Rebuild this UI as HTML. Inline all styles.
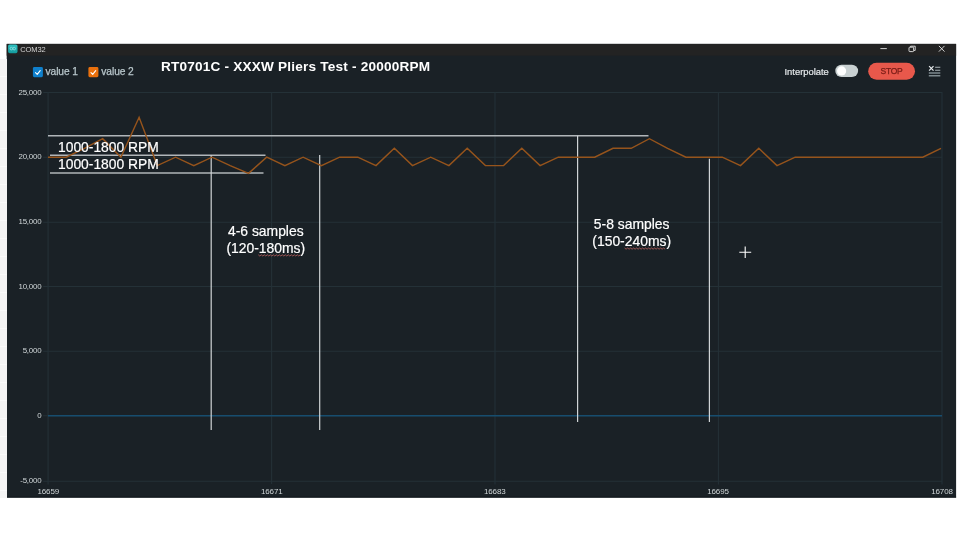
<!DOCTYPE html>
<html><head><meta charset="utf-8"><title>COM32</title>
<style>
html,body{margin:0;padding:0;}
body{width:960px;height:540px;overflow:hidden;background:#fff;position:relative;font-family:"Liberation Sans",sans-serif;}
.abs{position:absolute;z-index:1;}
#strip{left:0;top:59px;width:7px;height:439px;background:repeating-linear-gradient(#f4f4f4 0 17px,#fafafa 17px 18px);}
#ttl{left:20.3px;top:46px;font-size:7.5px;line-height:8px;color:#d4d4d4;letter-spacing:-0.12px;}
.lg{top:66px;font-size:10.2px;line-height:12px;color:#b9c7cc;letter-spacing:-0.06px;-webkit-text-stroke:0.25px #b9c7cc;}
#head{left:161px;top:60.1px;font-size:13.6px;line-height:14px;font-weight:bold;color:#fff;white-space:nowrap;letter-spacing:0.2px;}
.yl{left:0;width:41.4px;text-align:right;font-size:7.9px;line-height:9px;color:#d0d6d8;letter-spacing:-0.2px;}
.xl{top:487.2px;width:40px;text-align:center;font-size:8px;line-height:9px;color:#d0d6d8;letter-spacing:-0.1px;}
.ann{color:#fff;white-space:nowrap;-webkit-text-stroke:0.2px #fff;}
.rpm{font-size:13.85px;line-height:15px;left:58px;}
.smp{font-size:13.9px;line-height:16.7px;text-align:center;width:120px;}
#interp{left:784.5px;top:65.9px;-webkit-text-stroke:0.2px #e4e8ea;font-size:9.4px;line-height:11px;color:#e4e8ea;letter-spacing:0px;}
#stop{left:868px;top:62.9px;width:47px;height:16.8px;color:#7a1c16;font-size:8.5px;line-height:16.8px;text-align:center;letter-spacing:-0.3px;-webkit-text-stroke:0.25px #7a1c16;}
svg{position:absolute;left:0;top:0;}
#all{position:absolute;left:0;top:0;width:960px;height:540px;filter:blur(0.4px);}
</style></head><body>
<div id="all">
<div class="abs" id="strip"></div>
<div class="abs" id="ttl">COM32</div>

<div class="abs lg" style="left:45.5px;">value 1</div>
<div class="abs lg" style="left:101.3px;">value 2</div>
<div class="abs" id="head">RT0701C - XXXW Pliers Test - 20000RPM</div>

<div class="abs" id="interp">Interpolate</div>
<div class="abs" id="stop">STOP</div>

<div class="abs yl" style="top:87.5px;">25,000</div>
<div class="abs yl" style="top:152.2px;">20,000</div>
<div class="abs yl" style="top:217.2px;">15,000</div>
<div class="abs yl" style="top:281.5px;">10,000</div>
<div class="abs yl" style="top:346.3px;">5,000</div>
<div class="abs yl" style="top:410.8px;">0</div>
<div class="abs yl" style="top:476.2px;">-5,000</div>

<div class="abs xl" style="left:28.3px;">16659</div>
<div class="abs xl" style="left:251.8px;">16671</div>
<div class="abs xl" style="left:474.8px;">16683</div>
<div class="abs xl" style="left:698px;">16695</div>
<div class="abs xl" style="left:922px;">16708</div>

<svg width="960" height="540" viewBox="0 0 960 540">
 <rect x="6.7" y="43.9" width="949.4" height="453.7" fill="#1a2126"/>
 <rect x="6.7" y="496.6" width="949.4" height="1" fill="#12181c"/>
 <rect x="6.7" y="43.9" width="949.4" height="11.8" fill="#232323"/>
 <!-- grid -->
 <g stroke="#243137" stroke-width="1.1" fill="none">
  <path d="M43.2 92.5H942 M43.2 157.2H942 M43.2 222.2H942 M43.2 286.5H942 M43.2 351.3H942 M43.2 415.8H942 M43.2 481.2H942"/>
  <path d="M48.1 92V484.5 M271.6 92V484 M495 92V484.5 M718.4 92V484.5 M942 92V484.5"/>
 </g>
 <!-- value 1 (zero line) -->
 <path d="M48 415.7H942" stroke="#174d6e" stroke-width="1.6" fill="none"/>
 <!-- annotation lines -->
 <g stroke="#b1b6b9" stroke-width="1.5" fill="none">
  <path d="M48 135.8H648.5"/>
  <path d="M50 155.3H265.5"/>
  <path d="M50 173H263.5"/>
 </g>
 <g stroke="#d0d4d6" stroke-width="1.2" fill="none">
  <path d="M211.2 155.3V430"/>
  <path d="M319.7 155V430"/>
  <path d="M577.6 135.8V422"/>
  <path d="M709.4 158.7V422"/>
 </g>
 <defs><linearGradient id="ig" x1="0" y1="0" x2="0" y2="1"><stop offset="0" stop-color="#2fc3c3"/><stop offset="1" stop-color="#149a9d"/></linearGradient></defs>
 <rect x="8.1" y="44.4" width="9.4" height="8.8" rx="1.6" fill="url(#ig)"/>
 <g stroke="#9fe6e6" stroke-width="0.7" fill="none"><circle cx="11.4" cy="48.6" r="1.3"/><circle cx="14.2" cy="48.6" r="1.3"/></g>
 <rect x="32.9" y="67.1" width="10" height="10.1" rx="1.4" fill="#0f80cc"/>
 <rect x="88.4" y="67.1" width="10" height="10.1" rx="1.4" fill="#e9700d"/>
 <!-- checkbox ticks -->
 <g stroke="#fff" stroke-width="1.1" fill="none" stroke-linecap="round" stroke-linejoin="round">
  <path d="M35.5 72.6l1.7 1.7 3-3.6"/>
  <path d="M91 72.6l1.7 1.7 3-3.6"/>
 </g>
 <!-- value 2 -->
 <polyline points="48.0,157.2 66.2,157.2 84.4,148.3 102.7,138.7 120.9,157.2 139.1,117.3 157.3,165.6 175.6,157.2 193.8,165.6 212.0,157.2 230.2,165.6 248.5,173.4 266.7,157.2 284.9,165.6 303.1,157.2 321.4,165.6 339.6,157.2 357.8,157.2 376.0,165.6 394.3,148.3 412.5,165.6 430.7,157.2 448.9,165.6 467.2,148.3 485.4,165.6 503.6,165.6 521.8,148.3 540.1,165.6 558.3,157.2 576.5,157.2 594.7,157.2 613.0,148.3 631.2,148.3 649.4,138.7 667.6,148.3 685.9,157.2 704.1,157.2 722.3,157.2 740.5,165.6 758.8,148.3 777.0,165.6 795.2,157.2 813.4,157.2 831.7,157.2 849.9,157.2 868.1,157.2 886.3,157.2 904.6,157.2 922.8,157.2 941.0,148.3" stroke="#96541c" stroke-width="1.45" fill="none" stroke-linejoin="miter"/>
 <rect x="835.3" y="64.7" width="22.8" height="12.4" rx="6.2" fill="#c9d1d2"/>
 <circle cx="841.6" cy="70.9" r="4.6" fill="#fff"/>
 <rect x="868.2" y="62.8" width="46.8" height="16.9" rx="8.45" fill="#e8584b"/>
 <!-- window controls -->
 <g stroke="#e6e6e6" stroke-width="0.9" fill="none">
  <path d="M880.4 48.6H886.8"/>
  <rect x="909" y="47.2" width="4.6" height="4.4" rx="0.8"/>
  <path d="M910.6 47V46.2H915.2V50.4H914"/>
  <path d="M938.9 45.9l5.6 5.7M944.5 45.9l-5.6 5.7"/>
 </g>
 <!-- clear icon -->
 <g fill="none">
  <path d="M929.1 66.2l4.4 4.5M933.5 66.2l-4.4 4.5" stroke="#e8ecee" stroke-width="1.2"/>
  <path d="M935.1 67.3H940.3 M935.1 70.2H940.3" stroke="#aab4b8" stroke-width="1.1"/>
  <path d="M928.8 73H940.3 M928.8 75.8H940.3" stroke="#7d898e" stroke-width="1.5"/>
 </g>
 <polyline points="258.3,254.8 259.8,256.0 261.3,254.8 262.8,256.0 264.3,254.8 265.8,256.0 267.3,254.8 268.8,256.0 270.3,254.8 271.8,256.0 273.3,254.8 274.8,256.0 276.3,254.8 277.8,256.0 279.3,254.8 280.8,256.0 282.3,254.8 283.8,256.0 285.3,254.8 286.8,256.0 288.3,254.8 289.8,256.0 291.3,254.8 292.8,256.0 294.3,254.8 295.8,256.0 297.3,254.8 298.8,256.0 300.3,254.8" stroke="#d46a66" stroke-width="0.7" fill="none"/>
 <polyline points="624.6,248.0 626.1,249.2 627.6,248.0 629.1,249.2 630.6,248.0 632.1,249.2 633.6,248.0 635.1,249.2 636.6,248.0 638.1,249.2 639.6,248.0 641.1,249.2 642.6,248.0 644.1,249.2 645.6,248.0 647.1,249.2 648.6,248.0 650.1,249.2 651.6,248.0 653.1,249.2 654.6,248.0 656.1,249.2 657.6,248.0 659.1,249.2 660.6,248.0 662.1,249.2 663.6,248.0 665.1,249.2" stroke="#d46a66" stroke-width="0.7" fill="none"/>
 <!-- cursor plus -->
 <path d="M739.3 252.2H751.2 M745.2 246.4V258" stroke="#fff" stroke-width="1.1" fill="none"/>
</svg>

<div class="abs ann rpm" style="top:139.9px;">1000-1800 RPM</div>
<div class="abs ann rpm" style="top:157.2px;">1000-1800 RPM</div>
<div class="abs ann smp" style="left:205.8px;top:222.8px;">4-6 samples<br>(120-180ms)</div>
<div class="abs ann smp" style="left:571.7px;top:216.1px;">5-8 samples<br>(150-240ms)</div>
</div>
</body></html>
